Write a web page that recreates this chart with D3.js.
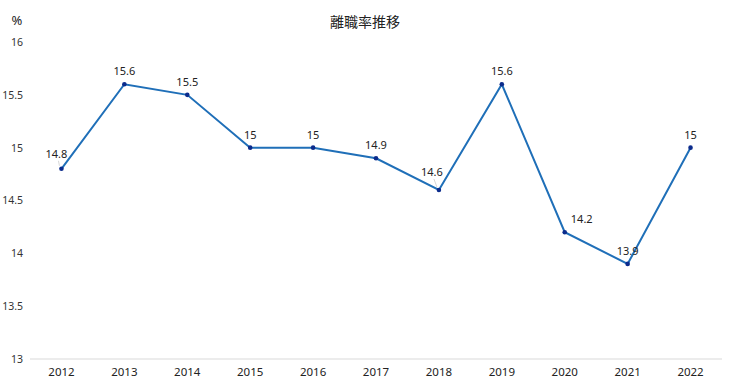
<!DOCTYPE html>
<html><head><meta charset="utf-8">
<script src="https://cdn.jsdelivr.net/npm/d3@7"></script>
<style>body{margin:0;background:#fff}svg{display:block}</style>
</head><body>
<script>
const years = ["2012","2013","2014","2015","2016","2017","2018","2019","2020","2021","2022"];
const rates = [14.8,15.6,15.5,15,15,14.9,14.6,15.6,14.2,13.9,15];
const yTicks = [13,13.5,14,14.5,15,15.5,16];
const title = "離職率推移";
const unit = "%";

const W=730,H=382;
const m={l:30,r:8,t:42,b:23};
const svg=d3.select("body").append("svg").attr("width",W).attr("height",H)
  .style("font-family","'Noto Sans','Noto Sans CJK JP',sans-serif");
const x=d3.scaleBand().domain(years).range([m.l,W-m.r]);
const y=d3.scaleLinear().domain([13,16]).range([H-m.b,m.t]);
const cx=d=>x(d)+x.bandwidth()/2;

svg.append("text").attr("x",W/2).attr("y",27).attr("text-anchor","middle")
  .attr("font-size",14).attr("fill","#222").attr("font-family","'Noto Sans CJK JP',sans-serif").text(title);
svg.append("text").attr("x",17).attr("y",25).attr("text-anchor","middle")
  .attr("font-size",13).attr("fill","#222").text(unit);

const ya=svg.append("g").attr("transform",`translate(23,0)`)
  .call(d3.axisLeft(y).tickValues(yTicks).tickSize(0).tickPadding(0).tickFormat(d=>d3.format("")(d)));
ya.select(".domain").remove();
ya.selectAll("text").attr("font-size",10.5).attr("fill","#333").attr("font-family","'Noto Sans',sans-serif");

svg.append("line").attr("x1",m.l).attr("x2",W-m.r).attr("y1",y(13)).attr("y2",y(13))
  .attr("stroke","#d9d9d9").attr("stroke-width",1);
const xa=svg.append("g").attr("transform",`translate(0,${y(13)})`)
  .call(d3.axisBottom(x).tickSize(0).tickPadding(9));
xa.select(".domain").remove();
xa.selectAll("text").attr("font-size",11.5).attr("fill","#222").attr("font-family","'Noto Sans',sans-serif");

const pts=years.map((d,i)=>({yr:d,v:rates[i],i}));
svg.append("path").datum(pts)
  .attr("d",d3.line().x(d=>cx(d.yr)).y(d=>y(d.v)))
  .attr("fill","none").attr("stroke","#1f6fb8").attr("stroke-width",2);

const dxOf=i=>i===0?-5:(i===6?-7:(i===8?17:0));
const dyOf=i=>i===6?-14:(i===0?-11:-9);
svg.selectAll("line.lead").data(pts.filter(d=>d.i===0||d.i===6)).join("line").attr("class","lead")
  .attr("x1",d=>cx(d.yr)-2).attr("y1",d=>y(d.v)-3)
  .attr("x2",d=>cx(d.yr)+dxOf(d.i)+2).attr("y2",d=>y(d.v)+dyOf(d.i)+3)
  .attr("stroke","#ccc").attr("stroke-width",0.8);

svg.selectAll("circle.pt").data(pts).join("circle").attr("class","pt")
  .attr("cx",d=>cx(d.yr)).attr("cy",d=>y(d.v)).attr("r",2.3).attr("fill","#0b2b8c");

svg.selectAll("text.lbl").data(pts).join("text").attr("class","lbl")
  .attr("x",d=>cx(d.yr)+dxOf(d.i)).attr("y",d=>y(d.v)+dyOf(d.i))
  .attr("text-anchor","middle").attr("font-size",11).attr("fill","#222")
  .text(d=>d.v);
</script>
</body></html>
